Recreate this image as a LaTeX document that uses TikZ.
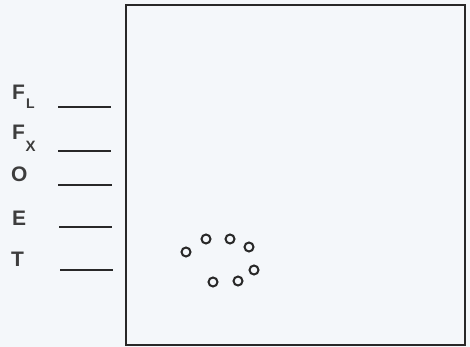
\documentclass[tikz,border=0pt]{standalone}
\usepackage{fontspec}
\setmainfont{Liberation Sans}
\definecolor{ink}{RGB}{40,40,40}
\definecolor{paper}{RGB}{244,247,250}
\begin{document}
\begin{tikzpicture}[x=1pt,y=-1pt,
  lbl/.style={font=\fontsize{21}{21}\selectfont\bfseries, text=ink!90, inner sep=0pt, anchor=base west},
  blank/.style={draw=ink, line width=1.5pt},
  bead/.style={circle, draw=ink, line width=2pt, minimum size=9pt, inner sep=0pt},
  frame/.style={draw=ink, line width=2.2pt}]
\fill[paper] (0,0) rectangle (470,347);
\useasboundingbox (0,0) rectangle (470,347);
% labels
\node[lbl] (fl) at (12,100) {F\kern1pt\raisebox{-9pt}{\fontsize{14}{14}\selectfont L}};
\node[lbl] (fx) at (12,140) {F\kern0.5pt\raisebox{-12pt}{\fontsize{15}{15}\selectfont X}};
\node[lbl] (o) at (11,182) {O};
\node[lbl] (e) at (12,225) {E};
\node[lbl] (t) at (11,266) {T};
% blanks
\coordinate (l1a) at (58,107); \coordinate (l1b) at (111,107);
\coordinate (l2a) at (58,151); \coordinate (l2b) at (111,151);
\coordinate (l3a) at (58,185); \coordinate (l3b) at (112,185);
\coordinate (l4a) at (59,227); \coordinate (l4b) at (112,227);
\coordinate (l5a) at (60,270); \coordinate (l5b) at (113,270);
\draw[blank] (l1a) -- (l1b);
\draw[blank] (l2a) -- (l2b);
\draw[blank] (l3a) -- (l3b);
\draw[blank] (l4a) -- (l4b);
\draw[blank] (l5a) -- (l5b);
% frame
\draw[frame] (126,5) rectangle (465,345);
% beads
\node[bead] (b1) at (186,252) {};
\node[bead] (b2) at (206,239) {};
\node[bead] (b3) at (230,239) {};
\node[bead] (b4) at (249,247) {};
\node[bead] (b5) at (254,270) {};
\node[bead] (b6) at (238,281) {};
\node[bead] (b7) at (213,282) {};
\end{tikzpicture}
\end{document}
